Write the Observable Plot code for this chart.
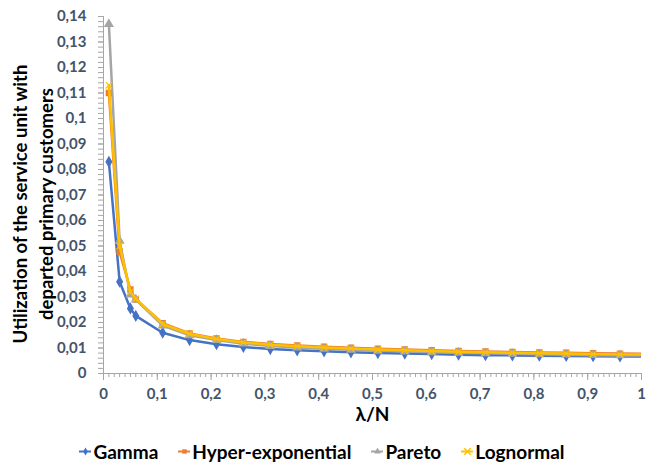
<!DOCTYPE html>
<html>
<head>
<meta charset="utf-8">
<script src="https://cdn.jsdelivr.net/npm/d3@7"></script>
<script src="https://cdn.jsdelivr.net/npm/@observablehq/plot@0.6"></script>
<style>
  html, body { margin: 0; padding: 0; background: #fff; }
  body { width: 646px; height: 464px; overflow: hidden; font-family: Lato, "Open Sans", sans-serif; }
  #legend { display: flex; justify-content: center; align-items: center; gap: 20px; height: 28px; margin-top: 5px; font-weight: bold; font-size: 19px; color: #000; margin-left: -2px; }
  .item { display: flex; align-items: center; gap: 2px; }
</style>
</head>
<body>
<div id="chart"></div>
<div id="legend"></div>
<script>
const xValues = [0.01,0.03,0.05,0.06,0.11,0.16,0.21,0.26,0.31,0.36,0.41,0.46,0.51,0.56,0.61,0.66,0.71,0.76,0.81,0.86,0.91,0.96,1.01];
const gamma = [0.083,0.036,0.0255,0.0226,0.016,0.0131,0.0115,0.0104,0.0096,0.0091,0.0087,0.0083,0.0080,0.0078,0.0076,0.0074,0.0072,0.0071,0.0070,0.0069,0.0068,0.0067,0.0066];
const hyperExp = [0.110,0.0476,0.0329,0.029,0.0197,0.0157,0.0137,0.0124,0.0116,0.011,0.0105,0.0101,0.0097,0.0094,0.0091,0.0088,0.0086,0.0084,0.0082,0.0081,0.0079,0.0078,0.0077];
const pareto = [0.137,0.052,0.031,0.029,0.0188,0.015,0.0131,0.0117,0.0108,0.0102,0.0097,0.0093,0.0089,0.0086,0.0083,0.0081,0.0079,0.0077,0.0075,0.0074,0.0072,0.0071,0.0070];
const lognormal = [0.113,0.050,0.032,0.0293,0.0194,0.0155,0.0135,0.0122,0.0113,0.0107,0.0102,0.0098,0.0094,0.0091,0.0088,0.0085,0.0083,0.0081,0.0079,0.0078,0.0076,0.0075,0.0074];

const seriesNames = ["Gamma","Hyper-exponential","Pareto","Lognormal"];
const seriesColors = ["#4472C4","#ED7D31","#A5A5A5","#FFC000"];
const seriesSymbols = ["diamond","square","triangle","times"];
const seriesValues = [gamma, hyperExp, pareto, lognormal];

const xTickLabels = [0,0.1,0.2,0.3,0.4,0.5,0.6,0.7,0.8,0.9,1];
const yTickLabels = [0,0.01,0.02,0.03,0.04,0.05,0.06,0.07,0.08,0.09,0.1,0.11,0.12,0.13,0.14];
const yLabel = "Utilization of the service unit with\ndeparted primary customers";
const xLabel = "λ/N";

const fmt = d => String(+d.toFixed(2)).replace(".", ",");
const tickColor = "#44546A";
const axisColor = "#A6A6A6";

const marks = [];
// minor ticks
marks.push(Plot.axisY({ticks: d3.range(0, 71).map(i => +(i*0.002).toFixed(3)), tickSize: 5, stroke: axisColor, text: null, label: null}));
marks.push(Plot.axisX({ticks: d3.range(0, 101).map(i => +(i*0.01).toFixed(2)), tickSize: 4, stroke: axisColor, text: null, label: null}));
// major ticks
marks.push(Plot.axisY({ticks: yTickLabels, tickSize: 5, tickPadding: 12, tickFormat: fmt, stroke: axisColor, fill: tickColor, fontSize: 15, fontWeight: "bold", label: null}));
marks.push(Plot.axisX({ticks: xTickLabels, tickSize: 7, tickPadding: 8, tickFormat: fmt, stroke: axisColor, fill: tickColor, fontSize: 15, fontWeight: "bold", label: null}));
marks.push(Plot.ruleX([0], {stroke: axisColor}));
marks.push(Plot.ruleY([0], {stroke: axisColor}));

seriesNames.forEach((name, i) => {
  const data = xValues.map((x, j) => ({x, y: seriesValues[i][j]}));
  marks.push(Plot.line(data, {x: "x", y: "y", stroke: seriesColors[i], strokeWidth: 2.5, clip: true}));
  const sym = seriesSymbols[i];
  if (sym === "times") {
    marks.push(Plot.dot(data, {x: "x", y: "y", symbol: sym, stroke: seriesColors[i], strokeWidth: 1.2, r: 3, clip: true}));
  } else {
    marks.push(Plot.dot(data, {x: "x", y: "y", symbol: sym, fill: seriesColors[i], stroke: seriesColors[i], r: 2.8, clip: true}));
  }
});

marks.push(Plot.text([yLabel], {frameAnchor: "left", textAnchor: "middle", rotate: -90, dx: -72, dy: 9, fontSize: 18.5, fontWeight: "bold", fill: "#000", lineHeight: 1.4}));
marks.push(Plot.text([xLabel], {frameAnchor: "bottom", dy: 47, fontSize: 19, fontWeight: "bold", fill: "#000"}));

const chart = Plot.plot({
  width: 646,
  height: 432,
  marginLeft: 103,
  marginRight: 5,
  marginTop: 16,
  marginBottom: 59,
  style: {fontFamily: "Lato, 'Open Sans', sans-serif", background: "#fff"},
  x: {domain: [0, 1]},
  y: {domain: [0, 0.14]},
  marks
});
document.getElementById("chart").appendChild(chart);

const legend = document.getElementById("legend");
seriesNames.forEach((name, i) => {
  const item = document.createElement("div");
  item.className = "item";
  const sw = Plot.plot({
    width: 12, height: 12, margin: 0, axis: null,
    x: {domain: [0, 1]}, y: {domain: [0, 1]},
    marks: [
      Plot.ruleY([0.5], {stroke: seriesColors[i], strokeWidth: 2}),
      seriesSymbols[i] === "times"
        ? Plot.dot([[0.5, 0.5]], {symbol: "times", stroke: seriesColors[i], r: 3})
        : Plot.dot([[0.5, 0.5]], {symbol: seriesSymbols[i], fill: seriesColors[i], r: 2.5})
    ]
  });
  item.appendChild(sw);
  const t = document.createElement("span");
  t.textContent = name;
  item.appendChild(t);
  legend.appendChild(item);
});
</script>
</body>
</html>
